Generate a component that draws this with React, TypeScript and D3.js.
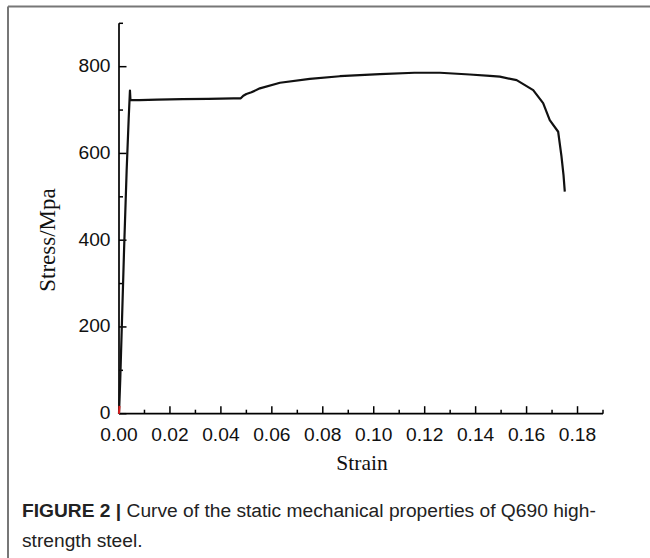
import React from "react";
import * as d3 from "d3";

const strain = [0, 0.0005, 0.0012, 0.002, 0.003, 0.0038, 0.0043, 0.0045, 0.008, 0.015, 0.025, 0.035, 0.045, 0.0478, 0.0488, 0.05, 0.052, 0.0553, 0.0632, 0.0749, 0.0867, 0.1024, 0.116, 0.126, 0.1377, 0.1456, 0.1495, 0.1561, 0.1626, 0.1665, 0.1691, 0.1724, 0.1737, 0.1745, 0.175];
const stress = [0, 80, 220, 380, 560, 680, 745, 723, 723, 724, 725, 726, 727, 727, 733, 737, 741, 750, 763, 772, 778, 783, 786, 786, 782, 779, 777, 769, 746, 716, 677, 650, 593, 550, 512];
const redStrain = [0, 0.0002];
const redStress = [0, 18];

const xMajor = [0, 0.02, 0.04, 0.06, 0.08, 0.1, 0.12, 0.14, 0.16, 0.18];
const xMinor = [0.01, 0.03, 0.05, 0.07, 0.09, 0.11, 0.13, 0.15, 0.17, 0.19];
const yMajor = [0, 200, 400, 600, 800];
const yMinor = [100, 300, 500, 700, 900];

const xTitle = "Strain";
const yTitle = "Stress/Mpa";
const captionBold = "FIGURE 2 |";
const captionLine1 = " Curve of the static mechanical properties of Q690 high-";
const captionLine2 = "strength steel.";

export default function App() {
  const x = d3.scaleLinear().domain([0, 0.19]).range([119, 603]);
  const y = d3.scaleLinear().domain([0, 900]).range([413.7, 23.3]);
  const pts = strain.map((s, i) => [s, stress[i]] as [number, number]);
  const line = d3.line<[number, number]>().x((d) => x(d[0])).y((d) => y(d[1]));
  const redPts = redStrain.map((s, i) => [s, redStress[i]] as [number, number]);
  const sans = "'Liberation Sans', Arial, sans-serif";
  const serif = "'Liberation Serif', 'Times New Roman', serif";
  const tickFont = 19.2;
  return (
    <div style={{ position: "absolute", left: 0, top: 0 }}>
      <svg width={650} height={558} style={{ display: "block", background: "#fff" }}>
        <line x1={8} y1={6.5} x2={650} y2={6.5} stroke="#777" strokeWidth={2} />
        <line x1={8} y1={6.5} x2={8} y2={558} stroke="#777" strokeWidth={2} />

        {/* axes */}
        <line x1={x(0)} y1={y(900)} x2={x(0)} y2={y(0)} stroke="#000" strokeWidth={1.7} />
        <line x1={x(0)} y1={y(0)} x2={x(0.19)} y2={y(0)} stroke="#000" strokeWidth={1.7} />
        {xMajor.map((t) => (
          <g key={"xM" + t}>
            <line x1={x(t)} x2={x(t)} y1={y(0)} y2={y(0) - 7.5} stroke="#000" strokeWidth={1.5} />
            <text x={x(t)} y={441} textAnchor="middle" fontFamily={sans} fontSize={tickFont} fill="#111">
              {t.toFixed(2)}
            </text>
          </g>
        ))}
        {xMinor.map((t) => (
          <line key={"xm" + t} x1={x(t)} x2={x(t)} y1={y(0)} y2={y(0) - 4} stroke="#000" strokeWidth={1.5} />
        ))}
        {yMajor.map((t) => (
          <g key={"yM" + t}>
            <line x1={x(0)} x2={x(0) + 7.5} y1={y(t)} y2={y(t)} stroke="#000" strokeWidth={1.5} />
            <text x={110.5} y={y(t) + 5.5} textAnchor="end" fontFamily={sans} fontSize={tickFont} fill="#111">
              {t}
            </text>
          </g>
        ))}
        {yMinor.map((t) => (
          <line key={"ym" + t} x1={x(0)} x2={x(0) + 4} y1={y(t)} y2={y(t)} stroke="#000" strokeWidth={1.5} />
        ))}

        {/* curve */}
        <path d={line(pts) || ""} fill="none" stroke="#111" strokeWidth={2.2} strokeLinejoin="round" />
        <path d={line(redPts) || ""} fill="none" stroke="#e02020" strokeWidth={2} />

        {/* titles */}
        <text x={362} y={470} textAnchor="middle" fontFamily={serif} fontSize={21.5} fill="#111">
          {xTitle}
        </text>
        <text
          transform={`translate(55, 240) rotate(-90)`}
          textAnchor="middle"
          fontFamily={serif}
          fontSize={23}
          fill="#111"
        >
          {yTitle}
        </text>

        {/* caption */}
        <text x={22} y={517} fontFamily={sans} fontSize={19.2} fill="#222">
          <tspan fontWeight="bold">{captionBold}</tspan>
          <tspan>{captionLine1}</tspan>
        </text>
        <text x={22} y={547} fontFamily={sans} fontSize={19.2} fill="#222">
          {captionLine2}
        </text>
      </svg>
    </div>
  );
}
